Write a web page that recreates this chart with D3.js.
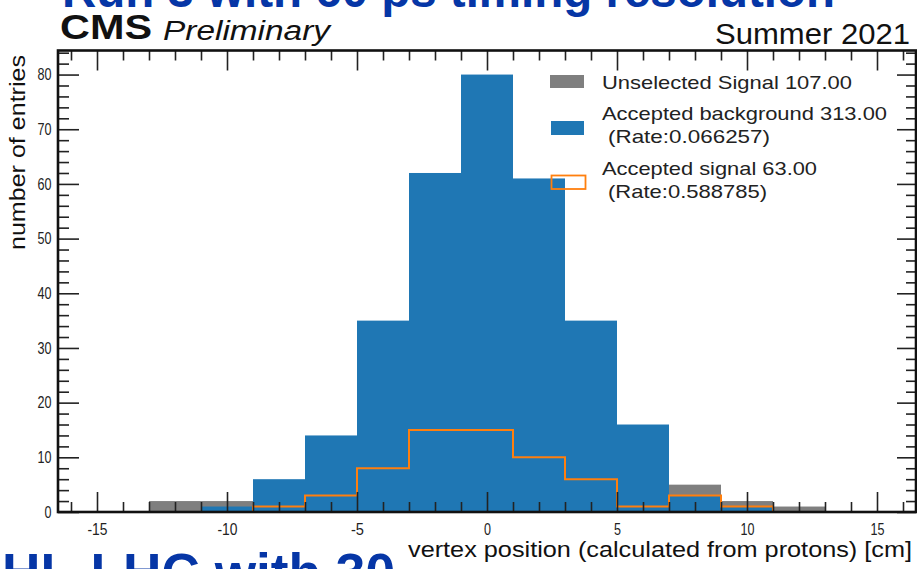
<!DOCTYPE html>
<html><head><meta charset="utf-8">
<script src="https://cdn.jsdelivr.net/npm/d3@7"></script>
<style>body{margin:0;background:#fff} svg{display:block;font-family:"Liberation Sans",Arial,sans-serif}</style>
</head><body>
<svg id="c" width="917" height="569"></svg>
<script>
// ---- data ----
const binEdges = [-13,-11,-9,-7,-5,-3,-1,1,3,5,7,9,11,13];
const unselectedSignal   = [2,2,2,5,13,24,25,16,9,1,5,2,1];
const acceptedBackground = [0,1,6,14,35,62,80,61,35,16,3,1,0];
const acceptedSignal     = [0,0,1,3,8,15,15,10,6,1,3,1,0];
const xMajorTicks = [-15,-10,-5,0,5,10,15];
const yMajorTicks = [0,10,20,30,40,50,60,70,80];
const legendLabels = [
  ["Unselected Signal 107.00"],
  ["Accepted background 313.00","(Rate:0.066257)"],
  ["Accepted signal 63.00","(Rate:0.588785)"]
];

// ---- layout ----
const svg = d3.select("#c");
const L = 58, R = 916, T = 50.5, B = 512;
const x = d3.scaleLinear().domain([-16.5,16.5]).range([L,R]);
const y = d3.scaleLinear().domain([0,84.4]).range([B,T]);
const blue = "#1f77b4", gray = "#7f7f7f", orange = "#ff7f0e", slideBlue = "#0636a6";

// slide texts (partially cropped)
svg.append("text").attr("x",62).attr("y",7).attr("font-size",48).attr("font-weight","bold")
  .attr("fill",slideBlue).attr("textLength",773).attr("lengthAdjust","spacingAndGlyphs")
  .text("Run 3 with 60 ps timing resolution");
svg.append("text").attr("x",2).attr("y",591).attr("font-size",53).attr("font-weight","bold")
  .attr("fill",slideBlue).attr("textLength",393).attr("lengthAdjust","spacingAndGlyphs")
  .text("HL-LHC with 30");
svg.append("rect").attr("x",401).attr("y",537).attr("width",516).attr("height",32).attr("fill","#fff");

const minorX = d3.range(-16,17,1).filter(v => !xMajorTicks.includes(v));
const minorY = d3.range(0,85,2).filter(v => !yMajorTicks.includes(v));

const bins = acceptedBackground.map((v,i)=>({x0:binEdges[i],x1:binEdges[i+1],bg:v,us:unselectedSignal[i],sg:acceptedSignal[i]}));

// gray
svg.append("g").selectAll("rect").data(bins.filter(d=>d.us>0)).join("rect")
  .attr("x",d=>x(d.x0)).attr("width",d=>x(d.x1)-x(d.x0))
  .attr("y",d=>y(d.us)).attr("height",d=>y(0)-y(d.us)).attr("fill",gray);
// blue
svg.append("g").selectAll("rect").data(bins.filter(d=>d.bg>0)).join("rect")
  .attr("x",d=>x(d.x0)).attr("width",d=>x(d.x1)-x(d.x0))
  .attr("y",d=>y(d.bg)).attr("height",d=>y(0)-y(d.bg)).attr("fill",blue);
// orange step
const nz = bins.map((d,i)=>d.sg>0?i:-1).filter(i=>i>=0);
const first = nz[0], last = nz[nz.length-1];
const pts = [[bins[first].x0,0]];
for (let i=first;i<=last;i++){ pts.push([bins[i].x0,bins[i].sg]); pts.push([bins[i].x1,bins[i].sg]); }
pts.push([bins[last].x1,0]);
svg.append("path").attr("d",d3.line().x(d=>x(d[0])).y(d=>y(d[1]))(pts))
  .attr("fill","none").attr("stroke",orange).attr("stroke-width",2);

// ---- axes ticks ----
function ticks(g, axis){ g.call(axis); g.select(".domain").remove(); g.selectAll("line").attr("stroke","#222").attr("stroke-width",1.6); }
ticks(svg.append("g").attr("transform",`translate(0,${B})`), d3.axisTop(x).tickValues(xMajorTicks).tickSize(20).tickFormat(""));
ticks(svg.append("g").attr("transform",`translate(0,${B})`), d3.axisTop(x).tickValues(minorX).tickSize(10).tickFormat(""));
ticks(svg.append("g").attr("transform",`translate(0,${T})`), d3.axisBottom(x).tickValues(xMajorTicks).tickSize(20).tickFormat(""));
ticks(svg.append("g").attr("transform",`translate(0,${T})`), d3.axisBottom(x).tickValues(minorX).tickSize(10).tickFormat(""));
ticks(svg.append("g").attr("transform",`translate(${L},0)`), d3.axisRight(y).tickValues(yMajorTicks).tickSize(21).tickFormat(""));
ticks(svg.append("g").attr("transform",`translate(${L},0)`), d3.axisRight(y).tickValues(minorY).tickSize(11).tickFormat(""));
ticks(svg.append("g").attr("transform",`translate(${R},0)`), d3.axisLeft(y).tickValues(yMajorTicks).tickSize(19).tickFormat(""));
ticks(svg.append("g").attr("transform",`translate(${R},0)`), d3.axisLeft(y).tickValues(minorY).tickSize(10).tickFormat(""));

function labelStyle(g){
  g.select(".domain").remove();
  g.attr("font-family",null).attr("font-size",null);
  g.selectAll("text").attr("font-size",16.5).attr("fill","#222")
   .attr("lengthAdjust","spacingAndGlyphs")
   .attr("textLength",function(){ const s=this.textContent; return s.replace("-","").length*7 + (s.includes("-")?6:0); });
}
const xl = svg.append("g").attr("transform",`translate(0,${B})`)
  .call(d3.axisBottom(x).tickValues(xMajorTicks).tickSize(0).tickPadding(11.5).tickFormat(d=>d3.format("d")(d).replace("−","-")));
labelStyle(xl);
const yl = svg.append("g").attr("transform",`translate(${L},0)`)
  .call(d3.axisLeft(y).tickValues(yMajorTicks).tickSize(0).tickPadding(6.5));
labelStyle(yl);

// frame
svg.append("rect").attr("x",L).attr("y",T).attr("width",R-L).attr("height",B-T)
  .attr("fill","none").attr("stroke","#111").attr("stroke-width",2.6);

// titles
svg.append("text").attr("x",60).attr("y",38.5).attr("font-size",35).attr("font-weight","bold")
  .attr("fill","#111").attr("textLength",92).attr("lengthAdjust","spacingAndGlyphs").text("CMS");
svg.append("text").attr("x",163).attr("y",39.5).attr("font-size",27).attr("font-style","italic")
  .attr("fill","#111").attr("textLength",167).attr("lengthAdjust","spacingAndGlyphs").text("Preliminary");
svg.append("text").attr("x",715).attr("y",43.5).attr("font-size",29).
  attr("fill","#111").attr("textLength",195).attr("lengthAdjust","spacingAndGlyphs").text("Summer 2021");
svg.append("text").attr("transform","translate(24.5,250) rotate(-90)").attr("font-size",22.5)
  .attr("fill","#111").attr("textLength",195).attr("lengthAdjust","spacingAndGlyphs").text("number of entries");
svg.append("text").attr("x",408).attr("y",557).attr("font-size",22)
  .attr("fill","#111").attr("textLength",504).attr("lengthAdjust","spacingAndGlyphs")
  .text("vertex position (calculated from protons) [cm]");

// legend
const lg = svg.append("g");
lg.append("rect").attr("x",550).attr("y",75).attr("width",34).attr("height",13).attr("fill",gray);
lg.append("rect").attr("x",551).attr("y",121).attr("width",33).attr("height",14).attr("fill",blue);
lg.append("rect").attr("x",551.5).attr("y",175.5).attr("width",34).attr("height",13.5).attr("fill","none").attr("stroke",orange).attr("stroke-width",1.8);
const legText = [
  [legendLabels[0][0],602,89,250],
  [legendLabels[1][0],602,119.5,285],[legendLabels[1][1],608,143,162],
  [legendLabels[2][0],602,175,215],[legendLabels[2][1],608,198,159]
];
lg.selectAll("text.l").data(legText).join("text").attr("class","l")
  .attr("x",d=>d[1]).attr("y",d=>d[2]).attr("font-size",18.5).attr("fill","#222")
  .attr("textLength",d=>d[3]).attr("lengthAdjust","spacingAndGlyphs").text(d=>d[0]);
</script>
</body></html>
